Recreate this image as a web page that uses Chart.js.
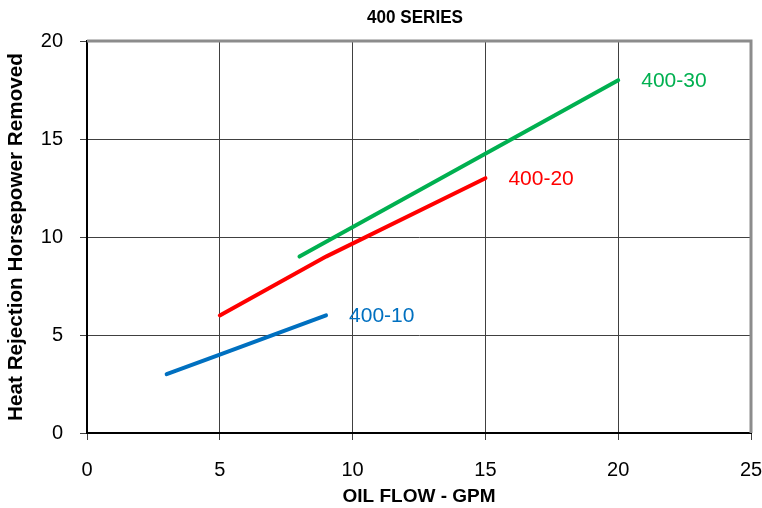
<!DOCTYPE html>
<html>
<head>
<meta charset="utf-8">
<script src="https://cdn.jsdelivr.net/npm/chart.js@4"></script>
<style>
  html, body { margin: 0; padding: 0; background: #fff; }
  #wrap { width: 762px; height: 508px; }
</style>
</head>
<body>
<div id="wrap"><canvas id="chart" width="762" height="508"></canvas></div>
<script>
// data
const seriesNames = ['400-10', '400-20', '400-30'];
const flow10 = [3, 5, 9];
const hp10 = [3, 4, 6];
const flow20 = [5, 9, 15];
const hp20 = [6, 9, 13];
const flow30 = [8, 20];
const hp30 = [9, 18];
const xTicks = [0, 5, 10, 15, 20, 25];
const yTicks = [0, 5, 10, 15, 20];

const colors = ['#0070C0', '#FF0000', '#00B050'];
const FONT = '"Liberation Sans", Arial, sans-serif';

const pts = (xs, ys) => xs.map((x, i) => ({ x: x, y: ys[i] }));

// title over plot + gray top/right frame + end labels
const extras = {
    id: 'extras',
    afterDraw(c) {
        const { ctx, chartArea: a, scales } = c;
        ctx.save();
        ctx.strokeStyle = '#8c8c8c';
        ctx.lineWidth = 3;
        ctx.beginPath();
        ctx.moveTo(a.left, a.top);
        ctx.lineTo(a.right, a.top);
        ctx.lineTo(a.right, a.bottom);
        ctx.stroke();

        // title looks slightly condensed in the reference
        ctx.save();
        ctx.translate((a.left + a.right) / 2 - 4, 18);
        ctx.scale(0.9, 1);
        ctx.fillStyle = '#000';
        ctx.font = 'bold 19px ' + FONT;
        ctx.textAlign = 'center';
        ctx.textBaseline = 'middle';
        ctx.fillText('400 SERIES', 0, 0);
        ctx.restore();

        ctx.font = '21px ' + FONT;
        ctx.textAlign = 'left';
        ctx.textBaseline = 'middle';
        c.data.datasets.forEach((ds, i) => {
            const last = ds.data[ds.data.length - 1];
            ctx.fillStyle = colors[i];
            ctx.fillText(seriesNames[i], scales.x.getPixelForValue(last.x) + 23, scales.y.getPixelForValue(last.y) + 1);
        });
        ctx.restore();
    }
};

new Chart(document.getElementById('chart'), {
    type: 'line',
    data: {
        datasets: [
            { label: seriesNames[0], data: pts(flow10, hp10) },
            { label: seriesNames[1], data: pts(flow20, hp20) },
            { label: seriesNames[2], data: pts(flow30, hp30) }
        ].map((d, i) => Object.assign(d, {
            borderColor: colors[i], backgroundColor: colors[i],
            borderWidth: 4, pointRadius: 0, tension: 0, fill: false, borderCapStyle: 'round'
        }))
    },
    options: {
        responsive: false,
        animation: false,
        layout: { padding: { top: 41, right: 11 } },
        plugins: { legend: { display: false }, tooltip: { enabled: false } },
        scales: {
            x: {
                type: 'linear', min: 0, max: 25,
                afterFit: s => { s.height = 75; s.paddingLeft = 0; s.paddingRight = 0; },
                afterBuildTicks: s => { s.ticks = xTicks.map(v => ({ value: v })); },
                ticks: { color: '#000', font: { family: FONT, size: 20 }, padding: 18, maxRotation: 0 },
                grid: { color: '#404040', lineWidth: 1, tickLength: 7 },
                border: { color: '#000', width: 2 },
                title: { display: true, text: 'OIL FLOW - GPM', color: '#000',
                    font: { family: FONT, size: 19, weight: 'bold' }, padding: { top: 0, bottom: 0 } }
            },
            y: {
                min: 0, max: 20,
                afterFit: s => { s.width = 87; s.paddingTop = 0; s.paddingBottom = 0; },
                afterBuildTicks: s => { s.ticks = yTicks.map(v => ({ value: v })); },
                ticks: { color: '#000', font: { family: FONT, size: 20 }, padding: 17 },
                grid: { color: '#404040', lineWidth: 1, tickLength: 7 },
                border: { color: '#000', width: 2 },
                title: { display: true, text: 'Heat Rejection Horsepower Removed', color: '#000',
                    font: { family: FONT, size: 20.7, weight: 'bold' }, padding: { top: 4, bottom: 0 } }
            }
        }
    },
    plugins: [extras]
});
</script>
</body>
</html>
